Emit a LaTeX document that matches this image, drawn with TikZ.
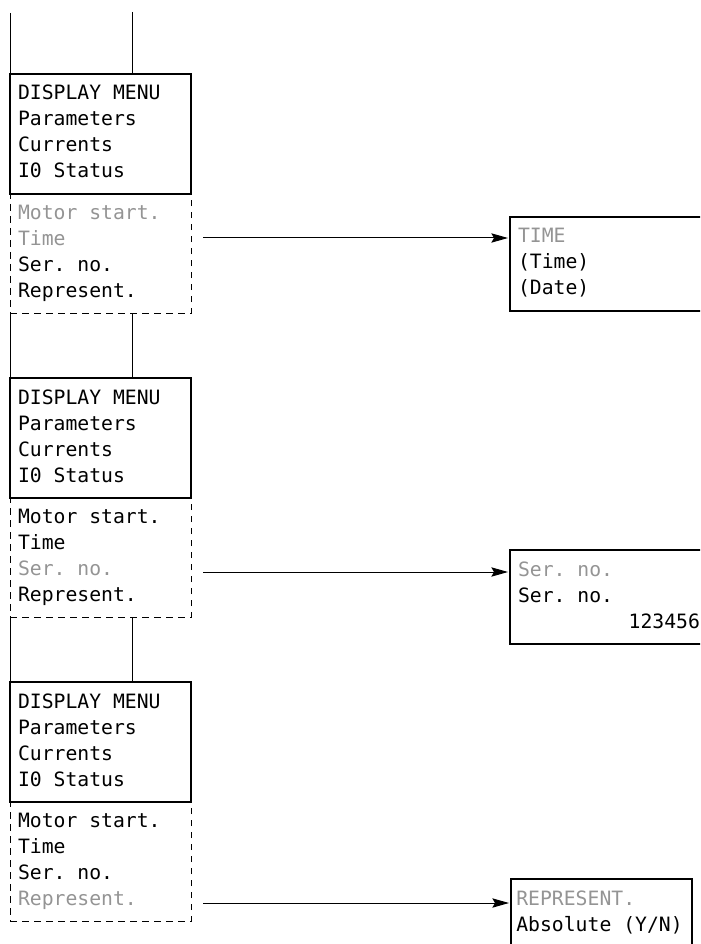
\documentclass[tikz,border=0pt]{standalone}
\usepackage{fontspec}
\setmonofont{DejaVu Sans Mono}
\usetikzlibrary{positioning,arrows.meta}
\definecolor{dimtext}{gray}{0.58}
\newcommand\fixspace{\spaceskip=0.602em\relax\xspaceskip=0.602em\relax}

\begin{document}
\begin{tikzpicture}[
    x=0.75pt, y=-0.75pt,
    every node/.style={rectangle, outer sep=0pt, inner xsep=6pt, inner ysep=5.85pt,
        text width=123.75pt, align=left,
        font=\ttfamily\fontsize{14.8}{19.5}\selectfont,
        execute at begin node={\fixspace\strut}, execute at end node=\strut},
    menu/.style={draw, line width=1.5pt, anchor=north west},
    more/.style={draw, line width=0.75pt, dash pattern=on 5pt off 4pt},
    target/.style={draw, line width=1.5pt, anchor=north west},
    wide/.style={text width=136.5pt},
    snug/.style={text width=127.75pt, inner xsep=4pt},
    link/.style={line width=0.75pt},
    arrow/.style={line width=0.75pt, shorten >=1.5pt,
        -{Stealth[length=12.5pt, width=7pt, inset=2pt]}}
]
\useasboundingbox (0,0) rectangle (700,944);
\clip (0,0) rectangle (700,944);

% Panel 1
\node[menu] (M1) at (10,74) {DISPLAY MENU\\Parameters\\Currents\\I0 Status};
\node[more, below=0pt of M1] (D1) {\textcolor{dimtext}{Motor start.}\\\textcolor{dimtext}{Time}\\Ser. no.\\Represent.};

% Panel 2
\node[menu] (M2) at (10,378) {DISPLAY MENU\\Parameters\\Currents\\I0 Status};
\node[more, below=0pt of M2] (D2) {Motor start.\\Time\\\textcolor{dimtext}{Ser. no.}\\Represent.};

% Panel 3
\node[menu] (M3) at (10,682) {DISPLAY MENU\\Parameters\\Currents\\I0 Status};
\node[more, below=0pt of M3] (D3) {Motor start.\\Time\\Ser. no.\\\textcolor{dimtext}{Represent.}};

% Sub menus
\node[target, wide] (T1) at (510,217) {\textcolor{dimtext}{TIME}\\(Time)\\(Date)};
\node[target, wide] (T2) at (510,550) {\textcolor{dimtext}{Ser. no.}\\Ser. no.\\\hfill 123456};
\node[target, snug] (T3) at (511,879) {\textcolor{dimtext}{REPRESENT.}\\Absolute (Y/N)};

% Links between panels
\coordinate (top1) at (10,13);
\coordinate (top2) at (132,12);
\draw[link] (top1) -- (M1.north west);
\draw[link] (top2) -- (top2 |- M1.north);
\draw[link] (D1.south west) -- (M2.north west);
\draw[link] ([xshift=91.5pt]D1.south west) -- ([xshift=91.5pt]M2.north west);
\draw[link] (D2.south west) -- (M3.north west);
\draw[link] ([xshift=91.5pt]D2.south west) -- ([xshift=91.5pt]M3.north west);

% Arrows to sub menus
\coordinate (a1) at (203,238);
\coordinate (a2) at (203,572);
\coordinate (a3) at (203,903);
\draw[arrow] (a1) -- (a1 -| T1.west);
\draw[arrow] (a2) -- (a2 -| T2.west);
\draw[arrow] (a3) -- (a3 -| T3.west);

\end{tikzpicture}
\end{document}
